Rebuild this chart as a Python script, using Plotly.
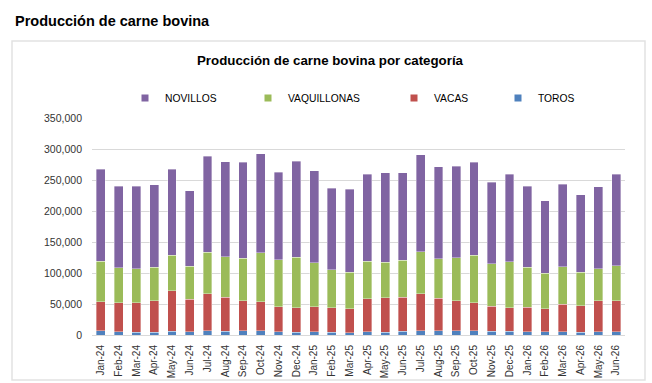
import plotly.graph_objects as go

months = ["Jan-24","Feb-24","Mar-24","Apr-24","May-24","Jun-24","Jul-24","Aug-24","Sep-24","Oct-24","Nov-24","Dec-24",
          "Jan-25","Feb-25","Mar-25","Apr-25","May-25","Jun-25","Jul-25","Aug-25","Sep-25","Oct-25","Nov-25","Dec-25",
          "Jan-26","Feb-26","Mar-26","Apr-26","May-26","Jun-26"]

toros = [6500,5400,4300,4300,5900,5400,7000,5900,6500,7000,5400,4300,
         5400,4300,3800,5400,4300,5900,6500,6500,7000,7000,5900,5900,
         5400,5400,5400,4300,5400,5400]
vacas = [46800,46300,47400,50600,65700,52200,59800,55000,48400,46900,39800,39900,
         40400,39900,38700,53300,56000,55000,60300,52700,47900,45200,40400,38300,
         39300,37100,44100,43100,50100,50100]
vaquillonas = [65700,56500,54900,54400,57100,53300,66700,65600,69000,79100,76500,81300,
               70500,61100,58700,60300,57100,59700,67300,64100,69500,76500,68400,74300,
               64600,57100,60900,53800,51700,56500]
novillos = [148600,131400,133400,133000,138900,121700,155100,153000,155100,159400,140600,155100,
            148700,131100,133600,140600,144300,141100,156700,148100,147500,150300,131400,141100,
            130900,116900,133000,125000,131900,147000]

y_ticks = [0, 50000, 100000, 150000, 200000, 250000, 300000, 350000]

series = [
    ("TOROS", toros, "#4F81BD"),
    ("VACAS", vacas, "#C0504D"),
    ("VAQUILLONAS", vaquillonas, "#9BBB59"),
    ("NOVILLOS", novillos, "#8064A2"),
]

W, H = 652, 383
L, R, T, B = 92, 27, 118, 48
pw, ph = W - L - R, H - T - B

def px_x(px):
    return (px - L) / pw

def px_y(py):
    return (H - B - py) / ph

fig = go.Figure()
legend_text_x = {"NOVILLOS": 164, "VAQUILLONAS": 287, "VACAS": 433, "TOROS": 537}
legend_names = {"NOVILLOS": "legend", "VAQUILLONAS": "legend2", "VACAS": "legend3", "TOROS": "legend4"}

for name, vals, col in series:
    fig.add_trace(go.Bar(
        x=months, y=vals, name=name, marker=dict(color=col, line=dict(color="rgba(255,255,255,0.6)", width=0.6)),
        showlegend=False,
    ))

for name, vals, col in series:
    fig.add_trace(go.Scatter(
        x=[None], y=[None], mode="markers", name=name,
        marker=dict(symbol="square", size=7, color=col),
        legend=legend_names[name], showlegend=True,
    ))

legend_common = dict(orientation="h", yanchor="middle", xanchor="left", bgcolor="rgba(0,0,0,0)",
                     font=dict(family="Liberation Sans, Arial", size=10.3, color="#000000"),
                     borderwidth=0, itemwidth=30)
layout_legends = {}
for name, lk in legend_names.items():
    layout_legends[lk] = dict(legend_common, x=px_x(legend_text_x[name] - 39), y=px_y(98))

fig.update_layout(
    width=W, height=H,
    margin=dict(l=L, r=R, t=T, b=B, pad=0, autoexpand=False),
    paper_bgcolor="white", plot_bgcolor="white",
    barmode="stack", bargap=0.5,
    font=dict(family="Liberation Sans, Arial", color="#404040"),
    **layout_legends,
    xaxis=dict(
        type="category", tickangle=-90, tickfont=dict(size=10, color="#333333"),
        showgrid=False, showline=True, linecolor="#d9d9d9", linewidth=1,
        ticks="", ticklabelstandoff=5, automargin=False,
    ),
    yaxis=dict(
        range=[0, 350000], tickvals=y_ticks, tickformat=",d",
        tickfont=dict(size=10.5, color="#333333"),
        showgrid=True, gridcolor="#d9d9d9", gridwidth=1, zeroline=False,
        showline=False, ticks="", ticklabelstandoff=9, automargin=False,
    ),
    shapes=[dict(type="rect", xref="paper", yref="paper",
                 x0=px_x(12), x1=px_x(645), y0=px_y(380), y1=px_y(41),
                 line=dict(color="#e2e2e2", width=1.5), layer="below")],
    annotations=[
        dict(text="<b>Producción de carne bovina</b>", xref="paper", yref="paper",
             x=px_x(13), y=px_y(21), xanchor="left", yanchor="middle", showarrow=False,
             font=dict(family="Liberation Sans, Arial", size=14.5, color="#000000")),
        dict(text="<b>Producción de carne bovina por categoría</b>", xref="paper", yref="paper",
             x=px_x(330), y=px_y(61), xanchor="center", yanchor="middle", showarrow=False,
             font=dict(family="Liberation Sans, Arial", size=13.3, color="#000000")),
    ],
)

fig.write_html("out.html")
